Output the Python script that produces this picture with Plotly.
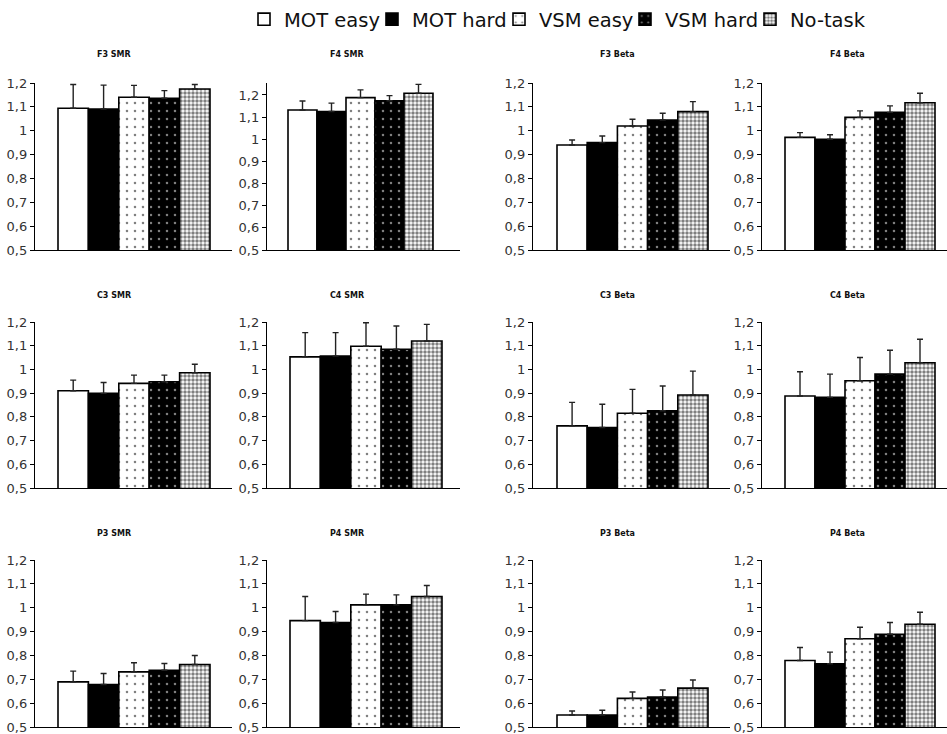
import plotly.graph_objects as go

W, H = 947, 734

panels = ["F3 SMR", "F4 SMR", "F3 Beta", "F4 Beta",
          "C3 SMR", "C4 SMR", "C3 Beta", "C4 Beta",
          "P3 SMR", "P4 SMR", "P3 Beta", "P4 Beta"]
conditions = ["MOT easy", "MOT hard", "VSM easy", "VSM hard", "No-task"]

# mean values per condition, in panel order
mot_easy = [1.094, 1.132, 0.940, 0.972, 0.910, 1.053, 0.762, 0.888, 0.689, 0.946, 0.550, 0.779]
mot_hard = [1.091, 1.125, 0.950, 0.964, 0.899, 1.056, 0.755, 0.882, 0.678, 0.938, 0.550, 0.765]
vsm_easy = [1.140, 1.188, 1.020, 1.056, 0.941, 1.098, 0.815, 0.952, 0.731, 1.012, 0.620, 0.870]
vsm_hard = [1.136, 1.174, 1.045, 1.077, 0.948, 1.085, 0.826, 0.980, 0.738, 1.012, 0.626, 0.889]
no_task = [1.175, 1.208, 1.080, 1.117, 0.986, 1.120, 0.892, 1.028, 0.762, 1.047, 0.663, 0.931]

# upper error bar sizes per condition
err_mot_easy = [0.100, 0.041, 0.021, 0.020, 0.045, 0.102, 0.099, 0.102, 0.045, 0.101, 0.017, 0.054]
err_mot_hard = [0.100, 0.038, 0.028, 0.019, 0.046, 0.099, 0.098, 0.098, 0.046, 0.046, 0.020, 0.049]
err_vsm_easy = [0.050, 0.035, 0.028, 0.027, 0.035, 0.099, 0.101, 0.098, 0.038, 0.045, 0.027, 0.048]
err_vsm_hard = [0.032, 0.023, 0.028, 0.027, 0.028, 0.098, 0.104, 0.101, 0.028, 0.042, 0.029, 0.049]
err_no_task = [0.019, 0.040, 0.042, 0.040, 0.036, 0.070, 0.101, 0.099, 0.038, 0.046, 0.034, 0.050]

tick_vals = [0.5, 0.6, 0.7, 0.8, 0.9, 1.0, 1.1, 1.2]
tick_text = ["0,5", "0,6", "0,7", "0,8", "0,9", "1", "1,1", "1,2"]

means = [mot_easy, mot_hard, vsm_easy, vsm_hard, no_task]
errs = [err_mot_easy, err_mot_hard, err_vsm_easy, err_vsm_hard, err_no_task]

patterns = [
    dict(shape="", bgcolor="white", fgcolor="white"),
    dict(shape="", bgcolor="black", fgcolor="black"),
    dict(shape=".", bgcolor="white", fgcolor="black", size=8, solidity=0.08),
    dict(shape=".", bgcolor="black", fgcolor="white", size=8, solidity=0.08),
    dict(shape=".", bgcolor="white", fgcolor="black", size=4, solidity=0.6),
]
fills = ["white", "black", "white", "black", "white"]
legend_ids = ["legend", "legend2", "legend3", "legend4", "legend5"]
legend_x_px = [244, 372, 499, 625, 750]

# layout geometry (pixels)
col_axis = [(35, 232), (267, 460), (533, 730), (762, 947)]
col_bars = [(58, 210), (290, 442), (557, 708), (785, 935)]
row_axis = [(83, 250), (322, 488), (560, 727)]
title_x = [114, 347, 617, 847]
title_y = [55, 295, 533]

fig = go.Figure()
bargap = 0.2
half = (1 - bargap) / 2

for p, name in enumerate(panels):
    r, c = divmod(p, 4)
    idx = p + 1
    xa = "x" if idx == 1 else f"x{idx}"
    ya = "y" if idx == 1 else f"y{idx}"
    for k, cond in enumerate(conditions):
        fig.add_trace(go.Bar(
            x=[name], y=[means[k][p]], name=cond,
            xaxis=xa, yaxis=ya,
            legend=legend_ids[k],
            legendgroup=cond, showlegend=(p == 0),
            marker=dict(color=fills[k], pattern=patterns[k],
                        line=dict(color="black", width=1.6)),
            error_y=dict(type="data", symmetric=False,
                         array=[errs[k][p]], arrayminus=[0],
                         color="#222", thickness=1.4, width=3),
        ))
    ax0, ax1 = col_axis[c]
    b0, b1 = col_bars[c]
    if p == 1:
        b0, b1 = 288, 433
    ppu = (b1 - b0) / (2 * half)
    xr = [-half - (b0 - ax0) / ppu, half + (ax1 - b1) / ppu]
    top, bot = row_axis[r]
    yr = [0.5, 1.2]
    if p == 1:
        yr = [0.5, 1.254]
    xkey = "xaxis" if idx == 1 else f"xaxis{idx}"
    ykey = "yaxis" if idx == 1 else f"yaxis{idx}"
    fig.layout[xkey] = dict(
        domain=[ax0 / W, min(ax1 / W, 1.0)], anchor=ya, range=xr,
        showline=True, linecolor="black", linewidth=1.4,
        showticklabels=False, ticks="", showgrid=False, zeroline=False,
        automargin=False,
    )
    fig.layout[ykey] = dict(
        domain=[1 - bot / H, 1 - top / H], anchor=xa, range=yr,
        showline=True, linecolor="black", linewidth=1.4,
        tickmode="array", tickvals=tick_vals, ticktext=tick_text,
        ticks="outside", ticklen=4, tickwidth=1.2, tickcolor="black",
        tickfont=dict(family="DejaVu Sans", size=13, color="#333"),
        ticklabeloverflow="allow",
        showgrid=False, zeroline=False, automargin=False,
    )
    fig.add_annotation(
        text=f"<b>{name}</b>", x=title_x[c] / W, y=1 - title_y[r] / H,
        xref="paper", yref="paper", showarrow=False,
        xanchor="center", yanchor="middle",
        font=dict(family="Liberation Sans Narrow, DejaVu Sans", size=8, color="#111"),
    )

fig.update_layout(
    width=W, height=H,
    margin=dict(l=0, r=0, t=0, b=0, autoexpand=False),
    paper_bgcolor="white", plot_bgcolor="white",
    barmode="group", bargap=bargap, bargroupgap=0,
)
for lid, lx in zip(legend_ids, legend_x_px):
    fig.layout[lid] = dict(
        orientation="h", x=lx / W, xanchor="left", y=1.0, yanchor="top",
        font=dict(family="DejaVu Sans", size=19.5, color="#111"),
        bgcolor="rgba(0,0,0,0)", itemwidth=30,
    )

fig.write_html("out.html", config={"displayModeBar": False},
               post_script="document.body.style.margin='0px';")
